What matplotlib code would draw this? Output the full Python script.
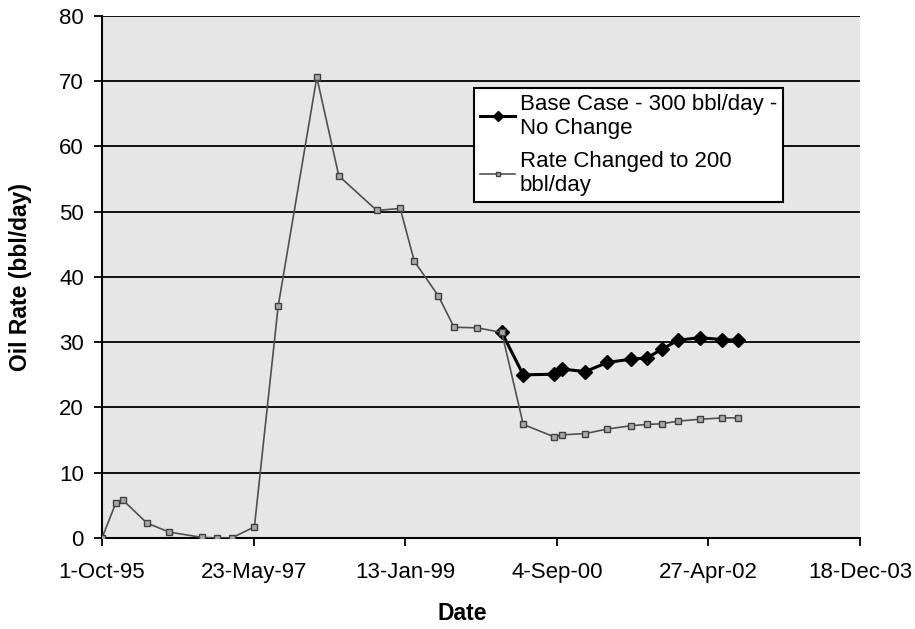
import numpy as np
import matplotlib
matplotlib.use("Agg")
import matplotlib.pyplot as plt
import matplotlib.dates as mdates
from matplotlib.ticker import FuncFormatter, FixedLocator

plt.rcParams["font.family"] = ["Liberation Sans", "DejaVu Sans"]

# shared history + reduced-rate case
dates_changed = [
    "1995-10-01", "1995-11-25", "1995-12-23", "1996-03-26", "1996-06-23",
    "1996-10-29", "1996-12-28", "1997-02-25", "1997-05-26", "1997-08-28",
    "1998-01-28", "1998-04-25", "1998-09-22", "1998-12-24", "1999-02-18",
    "1999-05-24", "1999-07-25", "1999-10-25", "2000-01-30", "2000-04-24",
    "2000-08-24", "2000-09-23", "2000-12-25", "2001-03-23", "2001-06-24",
    "2001-08-26", "2001-10-24", "2001-12-27", "2002-03-24", "2002-06-21",
    "2002-08-23",
]
rate_changed = [
    0.0, 5.4, 5.8, 2.3, 0.9,
    0.1, 0.0, 0.0, 1.7, 35.5,
    70.6, 55.5, 50.2, 50.5, 42.4,
    37.1, 32.3, 32.2, 31.5, 17.4,
    15.5, 15.8, 16.0, 16.7, 17.2,
    17.4, 17.5, 17.9, 18.2, 18.4,
    18.4,
]

# base case from the branch point
dates_base = [
    "2000-01-30", "2000-04-24", "2000-08-24", "2000-09-23", "2000-12-25",
    "2001-03-23", "2001-06-24", "2001-08-26", "2001-10-24", "2001-12-27",
    "2002-03-24", "2002-06-21", "2002-08-23",
]
rate_base = [
    31.5, 25.0, 25.1, 25.9, 25.5,
    26.9, 27.4, 27.6, 28.9, 30.3,
    30.7, 30.4, 30.3,
]

x_ticks = ["1995-10-01", "1997-05-23", "1999-01-13", "2000-09-04",
           "2002-04-27", "2003-12-18"]


def to_num(ds):
    return mdates.date2num(np.array(ds, dtype="datetime64[D]"))


fig = plt.figure(figsize=(9.15, 6.29), dpi=100)
ax = fig.add_axes([0.1115, 0.1447, 0.8285, 0.8299])
ax.set_facecolor("#e6e6e6")

ax.plot(to_num(dates_base), rate_base, color="black", lw=2.2, marker="D",
        ms=7, mfc="black", mec="black", label="Base Case - 300 bbl/day -\nNo Change",
        zorder=3)
ax.plot(to_num(dates_changed), rate_changed, color="#505050", lw=1.2, marker="s",
        ms=5, mfc="#a8a8a8", mec="#404040", mew=1.0,
        label="Rate Changed to 200\nbbl/day", zorder=4)

ax.set_ylim(0, 80)
ax.set_yticks(np.arange(0, 81, 10))
xt = to_num(x_ticks)
ax.set_xlim(xt[0], xt[-1])
ax.xaxis.set_major_locator(FixedLocator(xt))


def fmt_date(v, pos):
    d = mdates.num2date(v)
    return f"{d.day}-{d:%b-%y}"


ax.xaxis.set_major_formatter(FuncFormatter(fmt_date))

ax.grid(axis="y", color="black", lw=1.3)
ax.set_axisbelow(True)
for s in ["top", "right"]:
    ax.spines[s].set_visible(False)
for s in ["left", "bottom"]:
    ax.spines[s].set_linewidth(1.5)
ax.tick_params(direction="out", length=6, width=1.3, labelsize=16)
ax.tick_params(axis="x", pad=11)
ax.tick_params(axis="y", pad=7)

ax.set_xlabel("Date", fontsize=16.5, fontweight="bold")
ax.set_ylabel("Oil Rate (bbl/day)", fontsize=16.5, fontweight="bold")
ax.xaxis.set_label_coords(0.4755, -0.123)
ax.yaxis.set_label_coords(-0.092, 0.5)

leg = ax.legend(loc="upper left", bbox_to_anchor=(0.491, 0.862), fontsize=16,
                frameon=True, fancybox=False, edgecolor="black", framealpha=1,
                handlelength=1.6, handletextpad=0.2, borderpad=0.25,
                labelspacing=0.55, borderaxespad=0, markerscale=0.7)
leg.get_frame().set_linewidth(1.5)

fig.savefig("out.png", dpi=100)
